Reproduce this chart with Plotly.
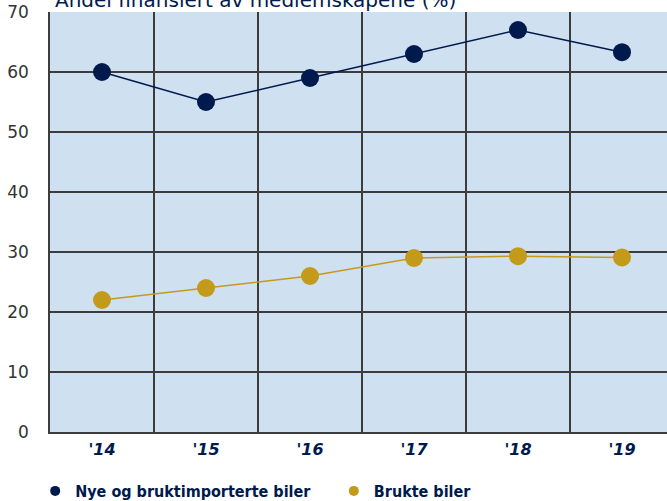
import plotly.graph_objects as go

# Share financed through memberships, per year
years = ["'14", "'15", "'16", "'17", "'18", "'19"]
nye_bruktimporterte = [60, 55, 59, 63, 67, 63.3]
brukte = [22, 24, 26, 29, 29.3, 29.1]

series_names = ["Nye og bruktimporterte biler", "Brukte biler"]
navy = "#001a4d"
gold = "#c49a1a"
grid = "#3c3c3c"

x_idx = list(range(len(years)))

fig = go.Figure()
for vals, color in [(nye_bruktimporterte, navy), (brukte, gold)]:
    fig.add_trace(go.Scatter(
        x=x_idx, y=vals, mode="lines+markers",
        line=dict(color=color, width=1.5),
        marker=dict(color=color, size=18),
        showlegend=False, hoverinfo="skip",
    ))

# Small legend markers, one legend box per series
for name, color, lg in zip(series_names, [navy, gold], ["legend", "legend2"]):
    fig.add_trace(go.Scatter(
        x=[None], y=[None], mode="markers", name=name,
        marker=dict(color=color, size=10), legend=lg,
    ))

legend_font = dict(family="DejaVu Sans Condensed", size=16, color=navy, weight="bold")
legend_common = dict(
    orientation="h", xanchor="left",
    y=-0.1, yref="paper", yanchor="top",
    font=legend_font, itemwidth=30, bgcolor="rgba(0,0,0,0)",
)

fig.update_layout(
    width=667, height=501,
    margin=dict(l=50, r=0, t=12, b=69, autoexpand=False),
    paper_bgcolor="white",
    plot_bgcolor="#cfe0f0",
    xaxis=dict(
        range=[-0.5, -0.5 + 617 / 104],
        tickvals=x_idx, ticktext=years,
        showgrid=False, zeroline=False,
        showline=True, linecolor=grid, linewidth=1.5,
        ticks="", ticklabelstandoff=2,
        tickfont=dict(family="DejaVu Sans", size=16, color=navy, weight="bold", style="italic"),
        minor=dict(tickvals=[i + 0.5 for i in range(-1, len(years))],
                   showgrid=True, gridcolor=grid, gridwidth=1.5, ticks=""),
    ),
    yaxis=dict(
        range=[0, 70], dtick=10,
        showgrid=True, gridcolor=grid, gridwidth=1.5,
        zeroline=False,
        showline=True, linecolor=grid, linewidth=1.5,
        ticks="", ticklabelstandoff=16,
        tickfont=dict(family="DejaVu Sans", size=17, color="#333333"),
    ),
    legend=dict(x=-0.024, **legend_common),
    legend2=dict(x=0.46, **legend_common),
    annotations=[dict(
        text="Andel finansiert av medlemskapene (%)",
        xref="paper", yref="paper", x=0.005, y=1, xanchor="left", yanchor="bottom",
        yshift=-2, showarrow=False,
        font=dict(family="DejaVu Sans", size=20, color=navy),
    )],
)

fig.write_html("out.html")
